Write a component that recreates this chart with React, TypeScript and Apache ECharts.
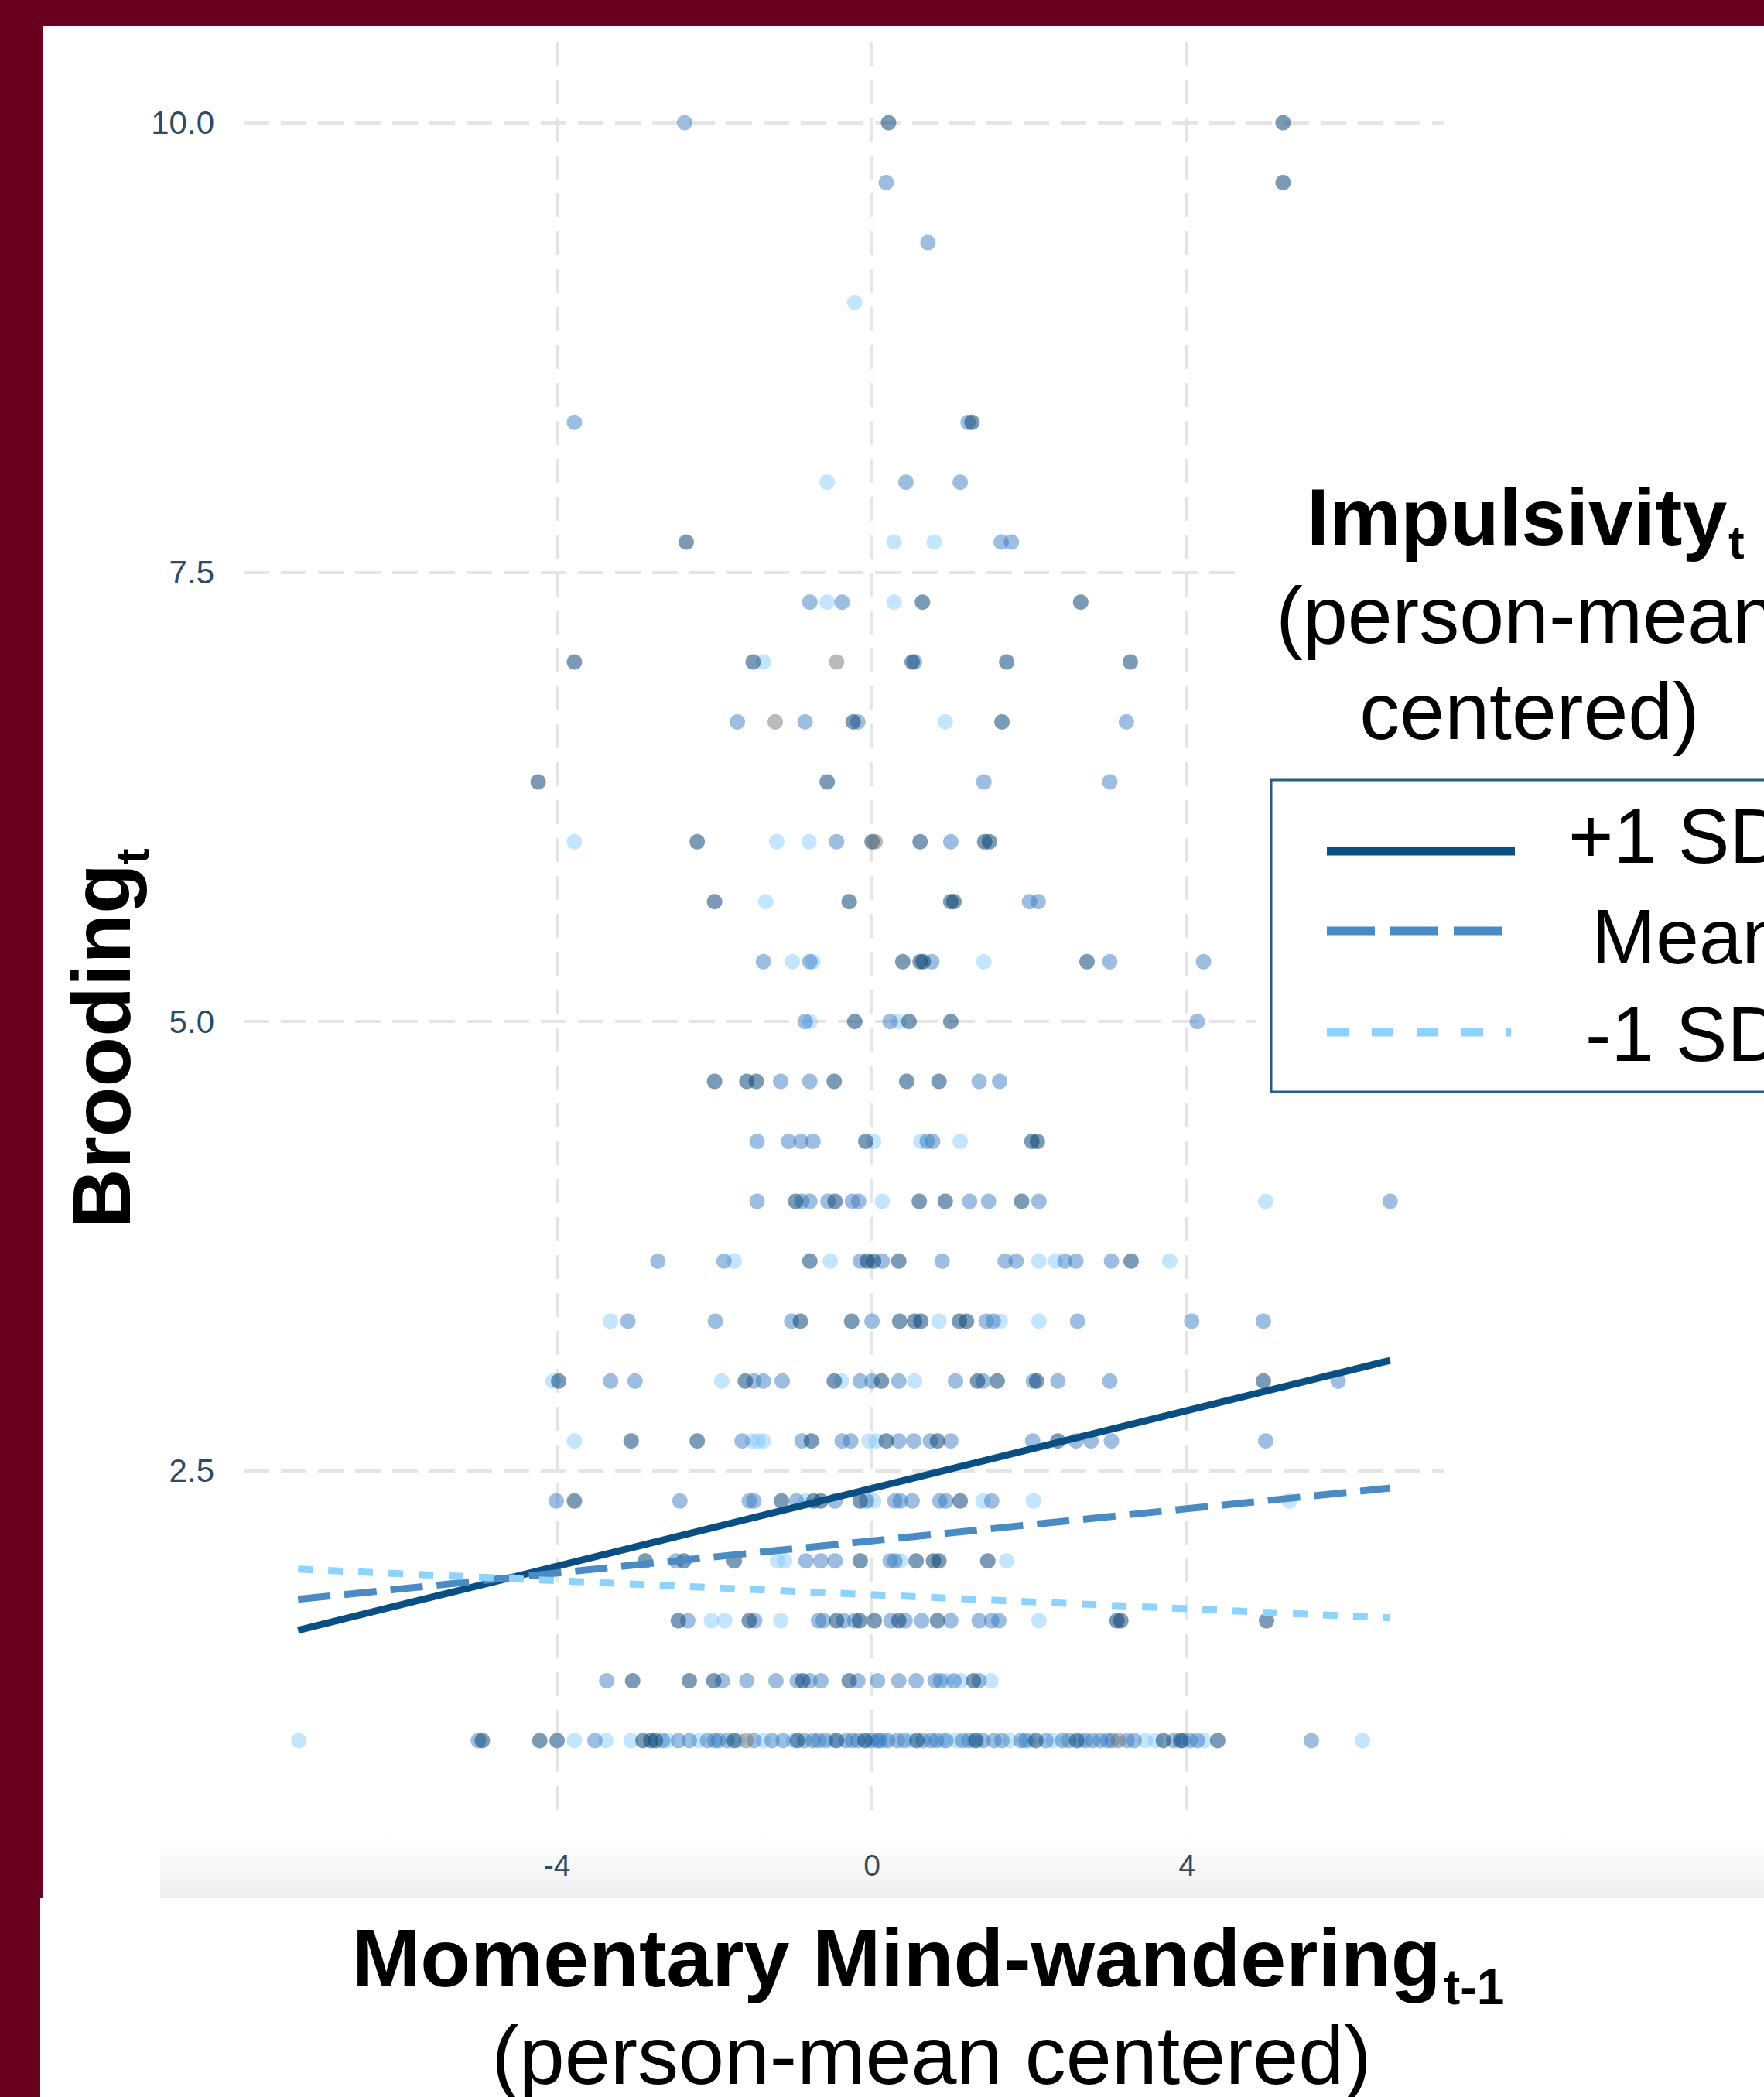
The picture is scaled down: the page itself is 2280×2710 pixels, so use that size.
import React, { useEffect, useRef } from "react";
import * as echarts from "echarts";

const FONT = '"Liberation Sans", Arial, Helvetica, sans-serif';

// Axis settings
const xTicks = [-4, 0, 4];
const yTicks = [2.5, 5, 7.5, 10];
const xMin = -7.98;
const xMax = 7.26;
const yMin = 0.55;
const yMax = 10.45;

// Regression lines (endpoints) for each moderator level
const plusSdLine: [number, number][] = [[-7.29, 1.614], [6.58, 3.115]];
const meanLine: [number, number][] = [[-7.29, 1.786], [6.58, 2.405]];
const minusSdLine: [number, number][] = [[-7.29, 1.954], [6.58, 1.683]];

// Observed points, +1 SD group (dark)
const plusSdPoints: [number, number][] = [
  [0.21, 10], [5.22, 10],
  [5.22, 9.667],
  [1.27, 8.333],
  [-2.36, 7.667],
  [0.64, 7.333], [2.65, 7.333],
  [-3.78, 7], [-1.51, 7], [0.51, 7], [1.71, 7], [3.28, 7],
  [-0.24, 6.667], [1.65, 6.667],
  [-4.24, 6.333], [-0.57, 6.333],
  [-2.22, 6], [0, 6], [0.61, 6], [1.43, 6], [1.49, 6],
  [-2.0, 5.667], [-0.29, 5.667], [1.0, 5.667], [1.04, 5.667],
  [0.39, 5.333], [0.61, 5.333], [0.65, 5.333], [2.73, 5.333],
  [-0.22, 5], [0.47, 5], [1.0, 5],
  [-2.0, 4.667], [-1.59, 4.667], [-1.47, 4.667], [-0.48, 4.667], [0.44, 4.667], [0.85, 4.667],
  [-0.08, 4.333], [2.03, 4.333], [2.1, 4.333],
  [-0.97, 4], [-0.47, 4], [0.6, 4], [0.93, 4], [1.9, 4],
  [-0.79, 3.667], [-0.06, 3.667], [0.02, 3.667], [0.34, 3.667], [3.29, 3.667],
  [-0.91, 3.333], [-0.26, 3.333], [0.35, 3.333], [0.54, 3.333], [0.62, 3.333], [1.11, 3.333], [1.2, 3.333],
  [-3.98, 3], [-1.61, 3], [-0.48, 3], [0.12, 3], [1.34, 3], [1.59, 3], [2.09, 3], [4.97, 3],
  [-3.06, 2.667], [-2.22, 2.667], [-0.77, 2.667], [0.18, 2.667], [0.83, 2.667], [2.36, 2.667],
  [-3.78, 2.333], [-1.15, 2.333], [-0.74, 2.333], [-0.65, 2.333], [-0.15, 2.333], [1.12, 2.333],
  [-2.88, 2], [-2.39, 2], [-1.75, 2], [-0.15, 2], [0.56, 2], [0.78, 2], [0.85, 2], [1.47, 2],
  [-2.46, 1.667], [-1.56, 1.667], [-0.45, 1.667], [-0.16, 1.667], [0.03, 1.667], [0.34, 1.667], [0.83, 1.667], [3.11, 1.667], [3.16, 1.667], [5.01, 1.667],
  [-3.04, 1.333], [-2.32, 1.333], [-2.01, 1.333], [-0.88, 1.333], [-0.29, 1.333], [1.29, 1.333],
  [-4.95, 1], [-4.22, 1], [-4.0, 1], [-2.91, 1], [-2.81, 1], [-2.75, 1], [-1.75, 1], [-0.95, 1], [-0.45, 1], [-0.09, 1], [0.57, 1], [1.32, 1], [2.08, 1], [2.6, 1], [3.7, 1], [3.92, 1], [4.39, 1],
];

// Observed points, mean group (mid blue)
const meanPoints: [number, number][] = [
  [-2.38, 10],
  [0.18, 9.667],
  [0.71, 9.333],
  [-3.78, 8.333], [1.22, 8.333],
  [0.43, 8], [1.12, 8],
  [1.64, 7.667], [1.77, 7.667],
  [-0.79, 7.333], [-0.38, 7.333],
  [0.54, 7],
  [-1.71, 6.667], [-0.85, 6.667], [-0.18, 6.667], [3.23, 6.667],
  [1.42, 6.333], [3.02, 6.333],
  [-0.45, 6], [1.0, 6],
  [2.0, 5.667], [2.11, 5.667],
  [-1.38, 5.333], [-0.79, 5.333], [0.76, 5.333], [3.02, 5.333], [4.21, 5.333],
  [-0.85, 5], [0.23, 5], [4.13, 5],
  [-1.16, 4.667], [-0.79, 4.667], [1.36, 4.667], [1.62, 4.667],
  [-1.46, 4.333], [-1.06, 4.333], [-0.9, 4.333], [-0.75, 4.333], [0.7, 4.333], [0.77, 4.333],
  [-1.46, 4], [-0.89, 4], [-0.79, 4], [-0.56, 4], [-0.25, 4], [-0.17, 4], [1.24, 4], [1.48, 4], [2.12, 4], [6.58, 4],
  [-2.72, 3.667], [-1.88, 3.667], [-0.15, 3.667], [0.13, 3.667], [0.89, 3.667], [1.69, 3.667], [1.83, 3.667], [2.45, 3.667], [2.59, 3.667], [3.04, 3.667],
  [-3.1, 3.333], [-1.99, 3.333], [-1.02, 3.333], [0, 3.333], [1.45, 3.333], [1.54, 3.333], [2.61, 3.333], [4.06, 3.333], [4.97, 3.333],
  [-3.32, 3], [-3.01, 3], [-1.5, 3], [-1.38, 3], [-1.14, 3], [-0.15, 3], [0, 3], [0.34, 3], [1.06, 3], [1.41, 3], [2.05, 3], [2.36, 3], [3.02, 3], [5.92, 3],
  [-1.65, 2.667], [-0.89, 2.667], [-0.38, 2.667], [-0.27, 2.667], [0.34, 2.667], [0.53, 2.667], [0.74, 2.667], [1.0, 2.667], [2.04, 2.667], [2.59, 2.667], [2.78, 2.667], [3.04, 2.667], [5.0, 2.667],
  [-4.01, 2.333], [-2.44, 2.333], [-1.56, 2.333], [-1.5, 2.333], [-0.96, 2.333], [-0.47, 2.333], [-0.07, 2.333], [0.29, 2.333], [0.36, 2.333], [0.51, 2.333], [0.86, 2.333], [0.94, 2.333], [1.52, 2.333],
  [-2.49, 2], [-0.84, 2], [-0.65, 2], [-0.47, 2], [0.23, 2], [0.29, 2],
  [-2.34, 1.667], [-1.49, 1.667], [-0.68, 1.667], [-0.62, 1.667], [-0.36, 1.667], [-0.22, 1.667], [0.24, 1.667], [0.42, 1.667], [0.63, 1.667], [1.0, 1.667], [1.36, 1.667], [1.52, 1.667], [1.61, 1.667],
  [-3.37, 1.333], [-1.9, 1.333], [-1.59, 1.333], [-1.22, 1.333], [-0.95, 1.333], [-0.79, 1.333], [-0.65, 1.333], [-0.18, 1.333], [0.07, 1.333], [0.34, 1.333], [0.56, 1.333], [0.8, 1.333], [0.87, 1.333], [1.04, 1.333], [1.36, 1.333],
  [-5.0, 1], [-3.52, 1], [-2.66, 1], [-2.46, 1], [-2.32, 1], [-2.09, 1], [-2.0, 1], [-1.95, 1], [-1.84, 1], [-1.5, 1], [-1.27, 1], [-1.13, 1], [-0.86, 1], [-0.75, 1], [-0.68, 1], [-0.59, 1], [-0.33, 1], [-0.25, 1], [-0.18, 1], [0, 1], [0.07, 1], [0.1, 1], [0.2, 1], [0.32, 1], [0.41, 1], [0.65, 1], [0.75, 1], [0.82, 1], [0.94, 1], [1.15, 1], [1.23, 1], [1.41, 1], [1.55, 1], [1.65, 1], [1.89, 1], [1.95, 1], [2.21, 1], [2.42, 1], [2.5, 1], [2.71, 1], [2.8, 1], [2.9, 1], [2.99, 1], [3.05, 1], [3.24, 1], [3.33, 1], [3.83, 1], [3.95, 1], [4.04, 1], [4.13, 1], [5.58, 1],
];

// Observed points, -1 SD group (light blue)
const minusSdPoints: [number, number][] = [
  [-0.22, 9],
  [-0.57, 8],
  [0.28, 7.667], [0.79, 7.667],
  [-0.57, 7.333], [0.28, 7.333],
  [-1.38, 7],
  [0.93, 6.667],
  [-3.78, 6], [-1.21, 6], [-0.8, 6],
  [-1.35, 5.667],
  [-1.01, 5.333], [-0.75, 5.333], [1.42, 5.333],
  [-0.79, 5], [0.34, 5],
  [0.02, 4.333], [0.62, 4.333], [1.12, 4.333],
  [0.13, 4], [5.0, 4],
  [-1.75, 3.667], [-0.53, 3.667], [2.12, 3.667], [2.33, 3.667], [3.78, 3.667],
  [-3.32, 3.333], [0.85, 3.333], [1.63, 3.333], [2.12, 3.333],
  [-4.05, 3], [-1.91, 3], [-0.39, 3], [0.54, 3],
  [-3.78, 2.667], [-1.52, 2.667], [-1.45, 2.667], [-1.38, 2.667], [-0.04, 2.667], [0.05, 2.667],
  [-0.84, 2.333], [0.02, 2.333], [1.41, 2.333], [2.05, 2.333], [5.3, 2.333],
  [-1.2, 2], [-1.11, 2], [0.36, 2], [1.71, 2],
  [-2.04, 1.667], [-1.87, 1.667], [-1.16, 1.667], [2.12, 1.667],
  [0.95, 1.333], [1.13, 1.333], [1.51, 1.333],
  [-7.28, 1], [-3.78, 1], [-3.38, 1], [-3.06, 1], [-2.6, 1], [-2.2, 1], [-1.7, 1], [-1.38, 1], [-1.0, 1], [-0.5, 1], [-0.05, 1], [0.15, 1], [0.5, 1], [0.9, 1], [1.07, 1], [1.3, 1], [1.75, 1], [2.0, 1], [2.3, 1], [2.65, 1], [3.47, 1], [3.6, 1], [4.22, 1], [6.23, 1],
];

// Observed points with missing moderator (grey)
const naPoints: [number, number][] = [
  [-0.45, 7], [-1.23, 6.667], [0.04, 6], [-1.6, 1], [3.13, 1],
];

const legendLabels = ["+1 SD", "Mean", "-1 SD"];

const COL_DARK = "#0A4F84";
const COL_MID = "#4A8BC4";
const COL_LIGHT = "#8DD3FF";

function buildOption() {
  const tickColor = "#2F4B63";
  const gridLine = "#E5E5E5";

  const graphic: any[] = [
    // light band at the bottom of the plot image
    {
      type: "rect",
      z: -1,
      shape: { x: 207, y: 2370, width: 2073, height: 83 },
      style: {
        fill: new echarts.graphic.LinearGradient(0, 0, 0, 1, [
          { offset: 0, color: "rgba(242,242,242,0)" },
          { offset: 1, color: "#EFEFEF" },
        ]),
      },
    },
    // white area behind the legend title
    { type: "rect", z: 5, shape: { x: 1610, y: 560, width: 700, height: 445 }, style: { fill: "#FFFFFF" } },
    { type: "rect", z: 5, shape: { x: 1624, y: 1000, width: 30, height: 420 }, style: { fill: "#FFFFFF" } },
    // legend title
    {
      type: "text", z: 10, x: 1689, y: 704 - 0.3465 * 104,
      style: { text: "Impulsivity", font: `bold 104px ${FONT}`, fill: "#000", align: "left", textAlign: "left", verticalAlign: "middle", textVerticalAlign: "middle" },
    },
    {
      type: "text", z: 10, x: 2234, y: 722 - 0.3465 * 62,
      style: { text: "t", font: `bold 62px ${FONT}`, fill: "#000", align: "left", textAlign: "left", verticalAlign: "middle", textVerticalAlign: "middle" },
    },
    {
      type: "text", z: 10, x: 1973, y: 831 - 0.3465 * 104,
      style: { text: "(person-mean", font: `104px ${FONT}`, fill: "#000", align: "center", textAlign: "center", verticalAlign: "middle", textVerticalAlign: "middle" },
    },
    {
      type: "text", z: 10, x: 1977, y: 955 - 0.3465 * 104,
      style: { text: "centered)", font: `104px ${FONT}`, fill: "#000", align: "center", textAlign: "center", verticalAlign: "middle", textVerticalAlign: "middle" },
    },
    // legend box
    {
      type: "rect", z: 10,
      shape: { x: 1643, y: 1008, width: 700, height: 403 },
      style: { fill: "#FFFFFF", stroke: "#2F5B8A", lineWidth: 3 },
    },
    { type: "line", z: 11, shape: { x1: 1715, y1: 1100, x2: 1958, y2: 1100 }, style: { stroke: COL_DARK, lineWidth: 11 } },
    { type: "line", z: 11, shape: { x1: 1715, y1: 1203, x2: 1950, y2: 1203 }, style: { stroke: COL_MID, lineWidth: 11, lineDash: [62, 20] } },
    { type: "line", z: 11, shape: { x1: 1715, y1: 1334, x2: 1953, y2: 1334 }, style: { stroke: COL_LIGHT, lineWidth: 11, lineDash: [28, 30] } },
    {
      type: "text", z: 11, x: 2027, y: 1115 - 0.3465 * 100,
      style: { text: legendLabels[0], font: `100px ${FONT}`, fill: "#000", align: "left", textAlign: "left", verticalAlign: "middle", textVerticalAlign: "middle" },
    },
    {
      type: "text", z: 11, x: 2057, y: 1245 - 0.3465 * 100,
      style: { text: legendLabels[1], font: `100px ${FONT}`, fill: "#000", align: "left", textAlign: "left", verticalAlign: "middle", textVerticalAlign: "middle" },
    },
    {
      type: "text", z: 11, x: 2049, y: 1371 - 0.3465 * 100,
      style: { text: legendLabels[2], font: `100px ${FONT}`, fill: "#000", align: "left", textAlign: "left", verticalAlign: "middle", textVerticalAlign: "middle" },
    },
    // x axis title
    {
      type: "text", z: 10, x: 455, y: 2567 - 0.3465 * 106,
      style: { text: "Momentary Mind-wandering", font: `bold 106px ${FONT}`, fill: "#000", align: "left", textAlign: "left", verticalAlign: "middle", textVerticalAlign: "middle" },
    },
    {
      type: "text", z: 10, x: 1866, y: 2590 - 0.3465 * 64,
      style: { text: "t-1", font: `bold 64px ${FONT}`, fill: "#000", align: "left", textAlign: "left", verticalAlign: "middle", textVerticalAlign: "middle" },
    },
    {
      type: "text", z: 10, x: 1204, y: 2693 - 0.3465 * 106,
      style: { text: "(person-mean centered)", font: `106px ${FONT}`, fill: "#000", align: "center", textAlign: "center", verticalAlign: "middle", textVerticalAlign: "middle" },
    },
    // y axis title (rotated)
    {
      type: "text", z: 10, x: 168 - 0.3465 * 106, y: 1587, rotation: Math.PI / 2,
      style: { text: "Brooding", font: `bold 106px ${FONT}`, fill: "#000", align: "left", textAlign: "left", verticalAlign: "middle", textVerticalAlign: "middle" },
    },
    {
      type: "text", z: 10, x: 192 - 0.3465 * 62, y: 1117, rotation: Math.PI / 2,
      style: { text: "t", font: `bold 62px ${FONT}`, fill: "#000", align: "left", textAlign: "left", verticalAlign: "middle", textVerticalAlign: "middle" },
    },
    // maroon frame
    { type: "rect", z: 20, shape: { x: 0, y: 0, width: 2280, height: 33 }, style: { fill: "#69001F" } },
    { type: "rect", z: 20, shape: { x: 0, y: 0, width: 55, height: 2453 }, style: { fill: "#69001F" } },
    { type: "rect", z: 20, shape: { x: 0, y: 2453, width: 52, height: 260 }, style: { fill: "#69001F" } },
  ];

  return {
    animation: false,
    backgroundColor: "#FFFFFF",
    grid: { left: 315, top: 54, width: 1551, height: 2300, containLabel: false },
    xAxis: {
      type: "value",
      min: xMin,
      max: xMax,
      axisLine: { show: false },
      axisTick: { show: false, customValues: xTicks },
      axisLabel: {
        customValues: xTicks,
        fontSize: 39,
        fontFamily: FONT,
        color: tickColor,
        margin: 37,
      },
      splitLine: { show: true, lineStyle: { color: gridLine, width: 4, type: [31, 18] } },
    },
    yAxis: {
      type: "value",
      min: yMin,
      max: yMax,
      axisLine: { show: false },
      axisTick: { show: false, customValues: yTicks },
      axisLabel: {
        customValues: yTicks,
        fontSize: 42,
        fontFamily: FONT,
        color: tickColor,
        margin: 38,
        formatter: (v: number) => v.toFixed(1),
      },
      splitLine: { show: true, lineStyle: { color: gridLine, width: 4, type: [33, 15] } },
    },
    graphic,
    series: [
      { type: "scatter", name: "-1 SD", data: minusSdPoints, symbol: "circle", symbolSize: 20, itemStyle: { color: "rgba(130,200,250,0.6)" }, z: 2 },
      { type: "scatter", name: "Mean", data: meanPoints, symbol: "circle", symbolSize: 20, itemStyle: { color: "rgba(50,120,190,0.6)" }, z: 2 },
      { type: "scatter", name: "+1 SD", data: plusSdPoints, symbol: "circle", symbolSize: 20, itemStyle: { color: "rgba(12,70,120,0.68)" }, z: 2 },
      { type: "scatter", name: "NA", data: naPoints, symbol: "circle", symbolSize: 20, itemStyle: { color: "rgba(110,110,110,0.6)" }, z: 2 },
      { type: "line", name: "+1 SD fit", data: plusSdLine, showSymbol: false, symbol: "none", lineStyle: { color: COL_DARK, width: 9, type: "solid" }, z: 3 },
      { type: "line", name: "Mean fit", data: meanLine, showSymbol: false, symbol: "none", lineStyle: { color: COL_MID, width: 9, type: [42, 18] }, z: 3 },
      { type: "line", name: "-1 SD fit", data: minusSdLine, showSymbol: false, symbol: "none", lineStyle: { color: COL_LIGHT, width: 9, type: [19, 20] }, z: 3 },
    ],
  };
}

export default function App() {
  const ref = useRef<HTMLDivElement>(null);
  useEffect(() => {
    if (!ref.current) return;
    const chart = echarts.init(ref.current, null, { renderer: "svg" });
    chart.setOption(buildOption() as any);
    return () => chart.dispose();
  }, []);
  return (
    <div
      ref={ref}
      style={{ position: "absolute", left: 0, top: 0, width: 2280, height: 2710, background: "#fff" }}
    />
  );
}
